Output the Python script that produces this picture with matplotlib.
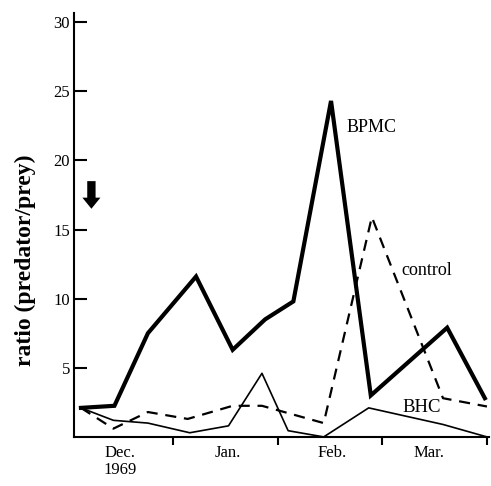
import matplotlib.pyplot as plt

# months counted from 1 Dec 1969 (0 = Dec 1, 1 = Jan 1, ...)
bpmc_x = [0.12, 0.44, 0.76, 1.22, 1.57, 1.88, 2.15, 2.51, 2.89, 3.62, 3.98]
bpmc_y = [2.1, 2.25, 7.5, 11.6, 6.3, 8.5, 9.8, 24.3, 3.0, 7.9, 2.8]

control_x = [0.12, 0.43, 0.76, 1.14, 1.57, 1.85, 2.44, 2.90, 3.58, 4.0]
control_y = [2.1, 0.6, 1.8, 1.3, 2.25, 2.25, 1.0, 15.9, 2.8, 2.2]

bhc_x = [0.12, 0.43, 0.76, 1.16, 1.53, 1.85, 2.10, 2.44, 2.87, 3.58, 4.0]
bhc_y = [2.1, 1.2, 1.0, 0.3, 0.8, 4.6, 0.45, 0.0, 2.1, 0.9, 0.0]

month_pos = [0.49, 1.52, 2.52, 3.45]
month_labels = ['Dec.', 'Jan.', 'Feb.', 'Mar.']
yticks = [5, 10, 15, 20, 25, 30]

plt.rcParams['font.family'] = ['Liberation Serif', 'DejaVu Serif']

fig = plt.figure(figsize=(4.91, 4.86), dpi=100)
ax = fig.add_axes([0.151, 0.101, 0.845, 0.872])

ax.plot(bpmc_x, bpmc_y, color='black', lw=3.0, solid_joinstyle='miter')
ax.plot(control_x, control_y, color='black', lw=1.6, dashes=(5, 3.5))
ax.plot(bhc_x, bhc_y, color='black', lw=1.2)

ax.text(2.66, 22.4, 'BPMC', fontsize=13, va='center')
ax.text(3.18, 12.0, 'control', fontsize=13, va='center')
ax.text(3.19, 2.1, 'BHC', fontsize=13.5, va='center')

# application arrow
ax.annotate('', xy=(0.22, 16.3), xytext=(0.22, 18.7),
            arrowprops=dict(arrowstyle='simple,head_width=1.3,head_length=0.8,tail_width=0.6',
                            color='black', lw=0))

ax.set_xlim(0.055, 4.02)
ax.set_ylim(0, 30.65)
ax.spines['top'].set_visible(False)
ax.spines['right'].set_visible(False)
ax.spines['left'].set_linewidth(1.5)
ax.spines['bottom'].set_linewidth(1.5)

ax.set_yticks(yticks)
ax.set_yticklabels([str(v) for v in yticks], fontsize=12)
ax.tick_params(axis='y', direction='in', length=9, width=1.5, pad=3)

ax.set_xticks([1, 2, 3, 4])
ax.set_xticklabels([])
ax.tick_params(axis='x', which='major', direction='out', length=6, width=1.5)
ax.set_xticks(month_pos, minor=True)
ax.set_xticklabels(month_labels, minor=True, fontsize=12)
ax.tick_params(axis='x', which='minor', length=0, pad=6)

ax.text(0.49, -0.078, '1969', transform=ax.get_xaxis_transform(),
        ha='center', va='center', fontsize=12)

ax.set_ylabel('ratio (predator/prey)', fontsize=17, fontweight='bold')
ax.yaxis.set_label_coords(-0.092, 0.417)

fig.savefig('out.png', dpi=100)
